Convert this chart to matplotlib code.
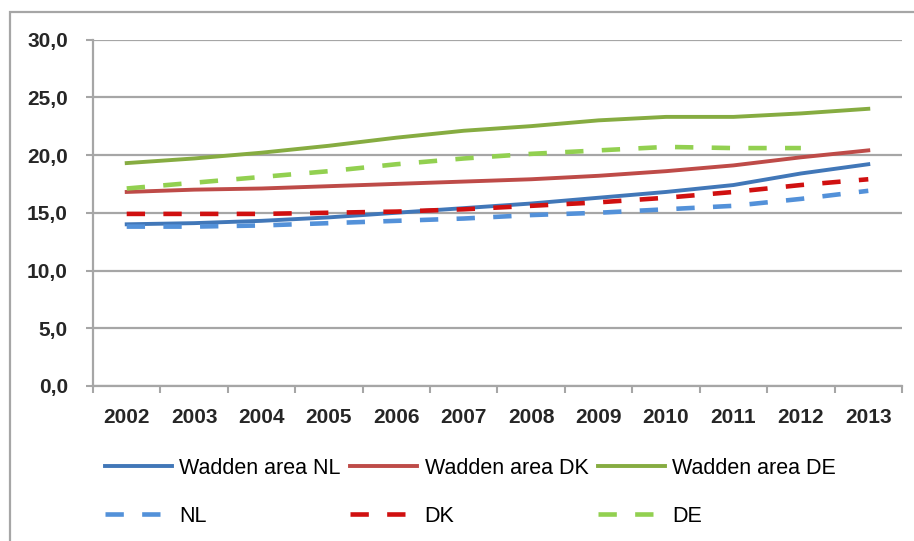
import matplotlib
matplotlib.use('Agg')
import matplotlib.pyplot as plt
from matplotlib.patches import Rectangle
import numpy as np

plt.rc('font', family=['Liberation Sans', 'DejaVu Sans'])

years = ['2002', '2003', '2004', '2005', '2006', '2007',
         '2008', '2009', '2010', '2011', '2012', '2013']

wadden_nl = [14.0, 14.1, 14.3, 14.6, 15.0, 15.4, 15.8, 16.3, 16.8, 17.4, 18.4, 19.2]
wadden_dk = [16.8, 17.0, 17.1, 17.3, 17.5, 17.7, 17.9, 18.2, 18.6, 19.1, 19.8, 20.4]
wadden_de = [19.3, 19.7, 20.2, 20.8, 21.5, 22.1, 22.5, 23.0, 23.3, 23.3, 23.6, 24.0]
nl = [13.8, 13.8, 13.9, 14.1, 14.3, 14.5, 14.8, 15.0, 15.3, 15.6, 16.2, 16.9]
dk = [14.9, 14.9, 14.9, 15.0, 15.1, 15.3, 15.6, 15.9, 16.3, 16.8, 17.4, 17.9]
de = [17.1, 17.6, 18.1, 18.6, 19.2, 19.7, 20.1, 20.4, 20.7, 20.6, 20.6, np.nan]

fig = plt.figure(figsize=(9.14, 5.41), dpi=100)
ax = fig.add_axes([93/914, 1-386/541, (902-93)/914, (386-39.5)/541])

x = np.arange(len(years))
grey = '#A6A6A6'

ax.plot(x, wadden_nl, '-', color='#4177B8', lw=2.8, label='Wadden area NL')
ax.plot(x, nl, '--', color='#5391D9', lw=3.3, dashes=(4, 4), label='NL')
ax.plot(x, wadden_dk, '-', color='#BE4B48', lw=2.8, label='Wadden area DK')
ax.plot(x, dk, '--', color='#D01010', lw=3.3, dashes=(4, 4), label='DK')
ax.plot(x, wadden_de, '-', color='#86AC41', lw=2.8, label='Wadden area DE')
ax.plot(x, de, '--', color='#92D050', lw=3.3, dashes=(4, 4), label='DE')

ax.set_xlim(-0.5, len(years) - 0.5)
ax.set_ylim(0, 30)
ax.set_yticks(np.arange(0, 31, 5))
ax.set_yticklabels(['%d,0' % v for v in range(0, 31, 5)])
ax.set_xticks(x)
ax.set_xticklabels(years)
ax.set_xticks(np.arange(-0.5, len(years), 1), minor=True)

ax.grid(True, axis='y', color=grey, lw=1.6)
ax.set_axisbelow(True)
for s in ['top', 'right']:
    ax.spines[s].set_visible(False)
for s in ['left', 'bottom']:
    ax.spines[s].set_color(grey)
    ax.spines[s].set_linewidth(1.6)

ax.tick_params(axis='y', length=5, width=1.5, color=grey, pad=13,
               labelsize=15, labelcolor='#262626')
ax.tick_params(axis='x', which='major', length=0, pad=16,
               labelsize=15, labelcolor='#262626')
ax.tick_params(axis='x', which='minor', length=5, width=1.5, color=grey)
for lab in ax.get_xticklabels() + ax.get_yticklabels():
    lab.set_fontweight('bold')

# chart area border
fig.patches.append(Rectangle((10/914, -0.1), 1.2, 1.1 - 12/541,
                             transform=fig.transFigure, fill=False,
                             edgecolor=grey, lw=1.6))

fig.legend(ncol=3, loc='upper left', bbox_to_anchor=(105/914, 1-458/541),
           frameon=False, fontsize=15.5, handlelength=3.1, handletextpad=0.35,
           columnspacing=0.45, labelspacing=1.25, borderpad=0, borderaxespad=0)

fig.savefig('out.png', dpi=100)
